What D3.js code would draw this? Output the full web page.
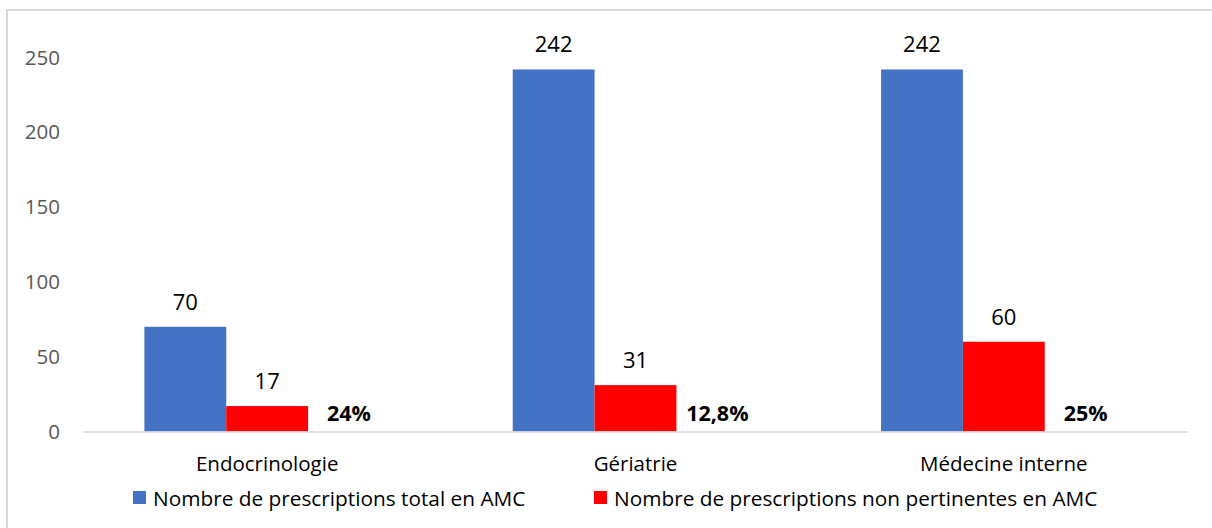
<!DOCTYPE html>
<html>
<head>
<meta charset="utf-8">
<script src="https://cdn.jsdelivr.net/npm/d3@7"></script>
<style>
  html, body { margin: 0; padding: 0; background: #fff; }
  svg { display: block; font-family: "Open Sans", "Noto Sans", sans-serif; }
</style>
</head>
<body>
<svg id="chart" width="1212" height="528"></svg>
<script>
const categories = ["Endocrinologie", "Gériatrie", "Médecine interne"];
const totalValues = [70, 242, 242];
const nonPertinentValues = [17, 31, 60];
const percentLabels = ["24%", "12,8%", "25%"];
const yTicks = [0, 50, 100, 150, 200, 250];
const seriesNames = ["Nombre de prescriptions total en AMC", "Nombre de prescriptions non pertinentes en AMC"];
const seriesColors = ["#4472C4", "#FF0000"];

const svg = d3.select("#chart");

// outer chart border (only left/top visible in frame)
svg.append("rect").attr("x", 7).attr("y", 10).attr("width", 1400).attr("height", 700)
  .attr("fill", "none").attr("stroke", "#d9d9d9").attr("stroke-width", 2);

const plotLeft = 83, plotRight = 1188;
const y = d3.scaleLinear().domain([0, 250]).range([431.5, 57.5]);
const x0 = d3.scaleBand().domain(categories).range([plotLeft, plotRight])
  .paddingInner(1 / 3).paddingOuter(1 / 6);
const x1 = d3.scaleBand().domain([0, 1, 2]).range([0, x0.bandwidth()]);

// y axis labels
const yAxis = d3.axisLeft(y).tickValues(yTicks).tickSize(0).tickPadding(0);
const ya = svg.append("g").attr("transform", "translate(60,0)").call(yAxis);
ya.select(".domain").remove();
ya.selectAll("text").attr("font-size", 20.5).attr("fill", "#595959")
  .attr("font-family", "'Open Sans', sans-serif");

// bars
const rows = categories.map((c, i) => ({ c, vals: [totalValues[i], nonPertinentValues[i]], pct: percentLabels[i] }));
const g = svg.append("g");
const cg = g.selectAll("g.cat").data(rows).join("g").attr("class", "cat")
  .attr("transform", d => `translate(${x0(d.c)},0)`);

cg.selectAll("rect").data(d => d.vals).join("rect")
  .attr("x", (d, i) => x1(i))
  .attr("width", x1.bandwidth())
  .attr("y", d => y(d))
  .attr("height", d => y(0) - y(d))
  .attr("fill", (d, i) => seriesColors[i]);

cg.selectAll("text.val").data(d => d.vals).join("text").attr("class", "val")
  .attr("x", (d, i) => x1(i) + x1.bandwidth() / 2)
  .attr("y", d => y(d) - 26)
  .attr("text-anchor", "middle").attr("dominant-baseline", "central")
  .attr("font-size", 22).attr("fill", "#000")
  .text(d => d);

cg.append("text")
  .attr("x", x1(2) + x1.bandwidth() / 2)
  .attr("y", y(0) - 19)
  .attr("text-anchor", "middle").attr("dominant-baseline", "central")
  .attr("font-size", 21.5).attr("font-weight", "bold").attr("fill", "#000")
  .text(d => d.pct);

// baseline
svg.append("line").attr("x1", plotLeft).attr("x2", plotRight)
  .attr("y1", 432).attr("y2", 432).attr("stroke", "#d9d9d9").attr("stroke-width", 1.5);

// category labels
const xAxis = d3.axisBottom(x0).tickSize(0).tickPadding(0);
const xa = svg.append("g").attr("transform", "translate(0,463)").call(xAxis);
xa.select(".domain").remove();
xa.selectAll("text").attr("font-size", 20.5).attr("fill", "#000")
  .attr("dy", null).attr("dominant-baseline", "central")
  .attr("font-family", "'Open Sans', sans-serif");

// legend
const legendX = [133, 594];
const lg = svg.append("g").selectAll("g").data(seriesNames).join("g")
  .attr("transform", (d, i) => `translate(${legendX[i]},491)`);
lg.append("rect").attr("width", 13).attr("height", 13).attr("fill", (d, i) => seriesColors[i]);
lg.append("text").attr("x", 20).attr("y", 6.5).attr("dominant-baseline", "central")
  .attr("font-size", 20.8).attr("fill", "#000").text(d => d);
</script>
</body>
</html>
